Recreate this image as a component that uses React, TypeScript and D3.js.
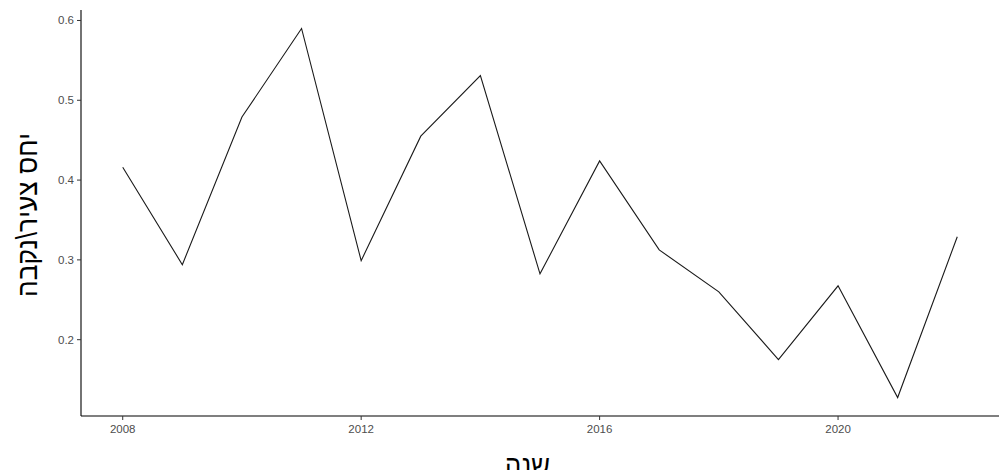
import React from "react";
import * as d3 from "d3";

const years = [2008, 2009, 2010, 2011, 2012, 2013, 2014, 2015, 2016, 2017, 2018, 2019, 2020, 2021, 2022];
const ratios = [0.416, 0.294, 0.479, 0.59, 0.299, 0.455, 0.531, 0.2825, 0.424, 0.3125, 0.26, 0.175, 0.2675, 0.1275, 0.329];
const xTicks = [2008, 2012, 2016, 2020];
const yTicks = [0.2, 0.3, 0.4, 0.5, 0.6];
const xTitle = "שנה";
const yTitle = "יחס צעיר\\נקבה";

const W = 1003;
const H = 470;

export default function App() {
  const left = 81;
  const right = 999;
  const top = 10;
  const bottom = 416;

  const xMin = d3.min(years)!;
  const xMax = d3.max(years)!;
  const xPad = (xMax - xMin) * 0.05;
  const x = d3.scaleLinear().domain([xMin - xPad, xMax + xPad]).range([left, right]);

  const yMin = d3.min(ratios)!;
  const yMax = d3.max(ratios)!;
  const yPad = (yMax - yMin) * 0.05;
  const y = d3.scaleLinear().domain([yMin - yPad, yMax + yPad]).range([bottom, top]);

  const line = d3
    .line<number>()
    .x((_, i) => x(years[i]))
    .y((d) => y(d));

  const tickFont = "Liberation Sans, Arial, sans-serif";

  return (
    <svg
      width={W}
      height={H}
      style={{ position: "absolute", left: 0, top: 0, background: "#fff" }}
    >
      <rect x={0} y={0} width={W} height={H} fill="#fff" />
      <path d={line(ratios) || ""} fill="none" stroke="#1a1a1a" strokeWidth={1.1} />
      <line x1={left} x2={left} y1={top} y2={bottom} stroke="#000" strokeWidth={1.1} />
      <line x1={left} x2={right} y1={bottom} y2={bottom} stroke="#000" strokeWidth={1.1} />
      {yTicks.map((t) => (
        <g key={t}>
          <line x1={left - 4} x2={left} y1={y(t)} y2={y(t)} stroke="#333" strokeWidth={1} />
          <text
            x={left - 7}
            y={y(t)}
            dy="0.35em"
            textAnchor="end"
            fontFamily={tickFont}
            fontSize={11.5}
            fill="#4d4d4d"
          >
            {t.toFixed(1)}
          </text>
        </g>
      ))}
      {xTicks.map((t) => (
        <g key={t}>
          <line x1={x(t)} x2={x(t)} y1={bottom} y2={bottom + 4} stroke="#333" strokeWidth={1} />
          <text
            x={x(t)}
            y={bottom + 17}
            textAnchor="middle"
            fontFamily={tickFont}
            fontSize={11.5}
            fill="#4d4d4d"
          >
            {t}
          </text>
        </g>
      ))}
      <text
        x={527.5}
        y={475}
        textAnchor="middle"
        fontFamily={tickFont}
        fontSize={29}
        textLength={45}
        lengthAdjust="spacingAndGlyphs"
        fill="#000"
      >
        {xTitle}
      </text>
      <text
        transform={`translate(37, 215) rotate(-90)`}
        textAnchor="middle"
        fontFamily={tickFont}
        fontSize={29}
        textLength={164}
        lengthAdjust="spacingAndGlyphs"
        fill="#000"
      >
        {yTitle}
      </text>
    </svg>
  );
}
